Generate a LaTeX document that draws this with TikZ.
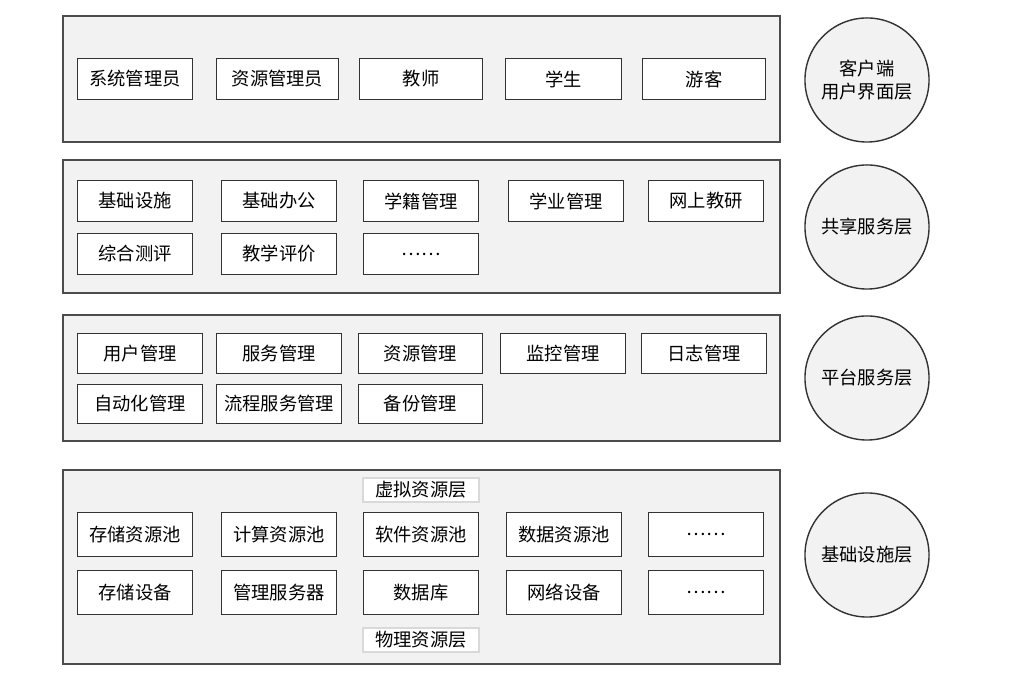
\documentclass[tikz,border=0pt]{standalone}
\usepackage{fontspec}
\setmainfont{Noto Sans CJK SC}
\begin{document}
\begin{tikzpicture}[x=0.01cm,y=-0.01cm,
  layer/.style={draw=black!70,fill=black!5,line width=0.4pt},
  box/.style={draw=black!80,fill=white,line width=0.4pt,inner sep=0pt,font=\fontsize{5.2}{6}\selectfont},
  circ/.style={circle,draw=black!80,fill=black!5,line width=0.4pt,minimum size=1.24cm,inner sep=0pt,align=center,font=\fontsize{5.2}{6.6}\selectfont},
  lbl/.style={draw=black!15,fill=white,inner sep=0pt,minimum width=1.16cm,minimum height=0.24cm,font=\fontsize{5.2}{6}\selectfont}]
\useasboundingbox (0,0) rectangle (1024,680);
\newcommand{\bx}[6]{\node[box,minimum width=#3*0.01cm-0.4pt,minimum height=#4*0.01cm-0.4pt] (#5) at (#1,#2) {#6};}
% layers
\draw[layer] (63,16) rectangle (780,142);
\draw[layer] (63,160) rectangle (780,293);
\draw[layer] (63,315) rectangle (780,441);
\draw[layer] (63,470) rectangle (780,664);
\node[circ] (c1) at (867,80) {客户端\\用户界面层};
\node[circ] (c2) at (867,227) {共享服务层};
\node[circ] (c3) at (867,378) {平台服务层};
\node[circ] (c4) at (867,555) {基础设施层};
% layer 1
\bx{135}{79}{116}{42}{a1}{系统管理员}
\bx{277.5}{79}{123}{42}{a2}{资源管理员}
\bx{421}{79}{124}{42}{a3}{教师}
\bx{563.5}{79}{117}{42}{a4}{学生}
\bx{704}{79}{124}{42}{a5}{游客}
% layer 2
\bx{135}{201}{116}{42}{b1}{基础设施}
\bx{279}{201}{116}{42}{b2}{基础办公}
\bx{421}{201}{116}{42}{b3}{学籍管理}
\bx{566}{201}{116}{42}{b4}{学业管理}
\bx{706}{201}{116}{42}{b5}{网上教研}
\bx{135}{254}{116}{42}{b6}{综合测评}
\bx{279}{254}{116}{42}{b7}{教学评价}
\bx{421}{254}{116}{42}{b8}{……}
% layer 3
\bx{140}{353.5}{126}{41}{p1}{用户管理}
\bx{279}{353.5}{126}{41}{p2}{服务管理}
\bx{420.5}{353.5}{125}{41}{p3}{资源管理}
\bx{563}{353.5}{126}{41}{p4}{监控管理}
\bx{704}{353.5}{126}{41}{p5}{日志管理}
\bx{140}{404}{126}{40}{p6}{自动化管理}
\bx{279}{404}{126}{40}{p7}{流程服务管理}
\bx{420.5}{404}{125}{40}{p8}{备份管理}
% layer 4
\node[lbl] (v) at (421,490) {虚拟资源层};
\bx{135}{534.5}{116}{45}{d1}{存储资源池}
\bx{279}{534.5}{116}{45}{d2}{计算资源池}
\bx{421}{534.5}{116}{45}{d3}{软件资源池}
\bx{564}{534.5}{116}{45}{d4}{数据资源池}
\bx{706}{534.5}{116}{45}{d5}{……}
\bx{135}{592.5}{116}{45}{e1}{存储设备}
\bx{279}{592.5}{116}{45}{e2}{管理服务器}
\bx{421}{592.5}{116}{45}{e3}{数据库}
\bx{564}{592.5}{116}{45}{e4}{网络设备}
\bx{706}{592.5}{116}{45}{e5}{……}
\node[lbl] (ph) at (421,640) {物理资源层};
\end{tikzpicture}
\end{document}
